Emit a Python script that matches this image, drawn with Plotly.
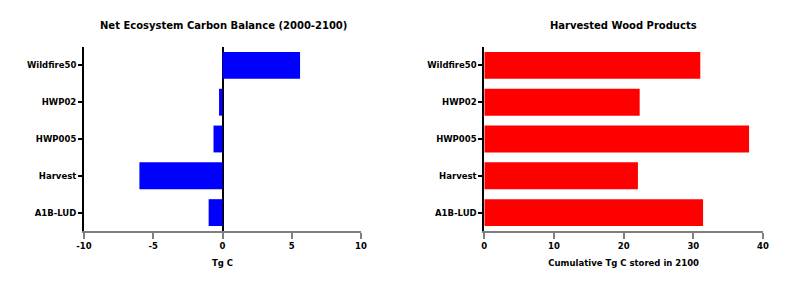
import plotly.graph_objects as go

scenarios = ["A1B-LUD", "Harvest", "HWP005", "HWP02", "Wildfire50"]
necb_values = [-1.0, -6.0, -0.65, -0.25, 5.6]
hwp_values = [31.4, 22.05, 38.0, 22.3, 31.0]
left_ticks = [-10, -5, 0, 5, 10]
left_tick_labels = ["-10", "-5", "0", "5", "10"]
right_ticks = [0, 10, 20, 30, 40]
right_tick_labels = ["0", "10", "20", "30", "40"]

W, H = 786, 298
FONT = "DejaVu Sans"

def px_x(p):
    return p / W

def px_y(p):
    return 1 - p / H

fig = go.Figure()
fig.add_trace(go.Bar(y=scenarios, x=necb_values, orientation="h",
                     marker=dict(color="#0000FF", line=dict(width=0)),
                     width=0.73, xaxis="x", yaxis="y"))
fig.add_trace(go.Bar(y=scenarios, x=hwp_values, orientation="h",
                     marker=dict(color="#FF0000", line=dict(width=0)),
                     width=0.73, xaxis="x2", yaxis="y2"))

tickfont = dict(family=FONT, size=8.5, color="black", weight="bold")
common_x = dict(showgrid=False, showline=True, linecolor="#808080", linewidth=2,
                ticks="outside", ticklen=6, tickwidth=1.5, tickcolor="#808080",
                tickfont=tickfont, fixedrange=True, automargin=False)
common_y = dict(showgrid=False, showline=True, linecolor="black", linewidth=2,
                ticks="outside", ticklen=4, tickwidth=1.5, tickcolor="black",
                tickfont=tickfont, range=[-0.5, 4.5], zeroline=False, fixedrange=True,
                automargin=False)

fig.update_layout(
    width=W, height=H,
    margin=dict(l=0, r=0, t=0, b=0),
    paper_bgcolor="white", plot_bgcolor="white",
    showlegend=False,
    xaxis=dict(domain=[px_x(84), px_x(361)], range=[-10, 10],
               tickvals=left_ticks, ticktext=left_tick_labels,
               zeroline=True, zerolinecolor="black", zerolinewidth=2,
               anchor="y",
               title=dict(text="Tg C", font=dict(family=FONT, size=8.5, color="black", weight="bold"), standoff=10),
               **common_x),
    yaxis=dict(domain=[px_y(231), px_y(47)], anchor="x", **common_y),
    xaxis2=dict(domain=[px_x(484.3), px_x(763)], range=[0, 40],
                tickvals=right_ticks, ticktext=right_tick_labels,
                zeroline=False, anchor="y2",
                title=dict(text="Cumulative Tg C stored in 2100", font=dict(family=FONT, size=8.5, color="black", weight="bold"), standoff=10),
                **common_x),
    yaxis2=dict(domain=[px_y(231), px_y(47)], anchor="x2", **common_y),
    annotations=[
        dict(text="Net Ecosystem Carbon Balance (2000-2100)", x=px_x(223), y=px_y(26),
             xref="paper", yref="paper", showarrow=False, xanchor="center", yanchor="middle",
             font=dict(family=FONT, size=10, color="black", weight="bold")),
        dict(text="Harvested Wood Products", x=px_x(623.5), y=px_y(26),
             xref="paper", yref="paper", showarrow=False, xanchor="center", yanchor="middle",
             font=dict(family=FONT, size=10, color="black", weight="bold")),
    ],
)

fig.write_html("out.html", config={"displayModeBar": False},
               post_script="document.body.style.margin='0';")
